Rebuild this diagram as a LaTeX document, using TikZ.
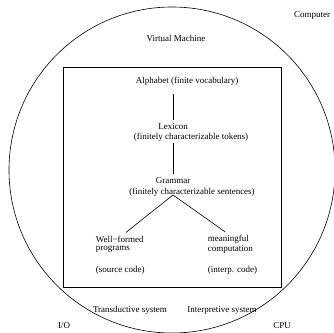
\documentclass[tikz,border=0pt]{standalone}
\usepackage{fontspec}
\setmainfont{Liberation Serif}
\begin{document}
\begin{tikzpicture}[x=1pt,y=-1pt,font=\fontsize{9}{10}\selectfont,inner sep=.5pt,line width=.6pt]
  \useasboundingbox (0,0) rectangle (334,332);
  \clip (0,0) rectangle (334,332);
  % machine and language box
  \draw (172,170) circle (163pt);
  \draw (63,67) rectangle (281,287);
  \node (computer) at (312,15) {Computer};
  \node (vm) at (176,38) {Virtual Machine};
  % language levels
  \node (alphabet) at (187,81) {Alphabet (finite vocabulary)};
  \node (lexicon) at (173,127) {Lexicon};
  \node (tokens) at (191,137) {(finitely characterizable tokens)};
  \node (grammar) at (173,181) {Grammar};
  \node (sentences) at (192,192) {(finitely characterizable sentences)};
  \coordinate (fork) at (173,195);
  \node[anchor=west] (wellformed) at (95,239) {Well−formed};
  \node[anchor=west] (programs) at (95,249) {programs};
  \node[anchor=west] (source) at (95,270) {(source code)};
  \node[anchor=west] (meaningful) at (207,239) {meaningful};
  \node[anchor=west] (computation) at (207,249) {computation};
  \node[anchor=west] (interp) at (207,270) {(interp. code)};
  \draw[shorten <=8pt,shorten >=3pt] (lexicon.north |- alphabet.south) -- (lexicon.north);
  \draw[shorten <=1pt,shorten >=3pt] (grammar.north |- tokens.south) -- (grammar.north);
  \draw[shorten >=4pt] (fork) -- ([xshift=3pt]wellformed.north);
  \draw[shorten >=4pt] (fork) -- (meaningful.north);
  % systems
  \node (transductive) at (130,310) {Transductive system};
  \node (interpretive) at (222,310) {Interpretive system};
  \node (io) at (64,326) {I/O};
  \node (cpu) at (282,326) {CPU};
\end{tikzpicture}
\end{document}
